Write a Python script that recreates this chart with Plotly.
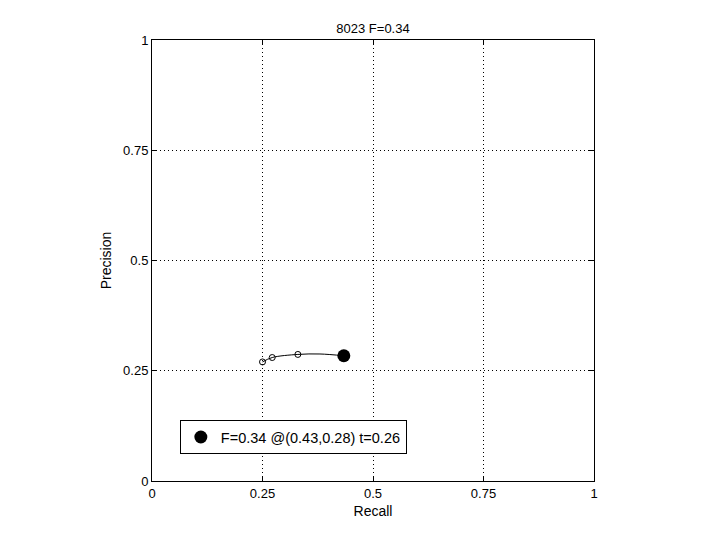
import plotly.graph_objects as go

# Data
curve_recall = [0.250, 0.272, 0.330, 0.380, 0.434]
curve_precision = [0.270, 0.280, 0.287, 0.288, 0.284]
marker_recall = [0.250, 0.272, 0.330]
marker_precision = [0.270, 0.280, 0.287]
best_recall = [0.434]
best_precision = [0.284]
best_label = "F=0.34 @(0.43,0.28) t=0.26"
title_text = "8023 F=0.34"
tick_vals = [0, 0.25, 0.5, 0.75, 1]
tick_text = ["0", "0.25", "0.5", "0.75", "1"]

fig = go.Figure()
fig.add_trace(go.Scatter(x=curve_recall, y=curve_precision, mode="lines",
                         line=dict(color="black", width=1, shape="spline"),
                         showlegend=False, hoverinfo="skip"))
fig.add_trace(go.Scatter(x=marker_recall, y=marker_precision, mode="markers",
                         marker=dict(symbol="circle-open", size=6, color="black",
                                     line=dict(width=1, color="black")),
                         showlegend=False))
fig.add_trace(go.Scatter(x=best_recall, y=best_precision, mode="markers",
                         marker=dict(symbol="circle", size=13, color="black"),
                         name=best_label, showlegend=True))

axis_common = dict(range=[0, 1], tickvals=tick_vals, ticktext=tick_text,
                   showgrid=True, gridcolor="black", griddash="1px,3px", gridwidth=1,
                   showline=True, linecolor="black", linewidth=1, mirror="ticks",
                   ticks="inside", ticklen=5, tickcolor="black", zeroline=False,
                   tickfont=dict(size=13, color="black"))

fig.update_layout(
    width=720, height=540,
    paper_bgcolor="white", plot_bgcolor="white",
    font=dict(family="Liberation Sans, Arial, sans-serif", size=13, color="black"),
    margin=dict(l=144, r=134, t=32, b=67),
    title=dict(text=title_text, x=(144 + 586) / 2 / 720, xanchor="center",
               y=1 - 20 / 540, yanchor="middle", font=dict(size=13)),
    xaxis=dict(title=dict(text="Recall", standoff=6, font=dict(size=14)), **axis_common),
    yaxis=dict(title=dict(text="Precision", standoff=8, font=dict(size=14)), **axis_common),
    legend=dict(x=0.063, y=0.061, xanchor="left", yanchor="bottom",
                bgcolor="white", bordercolor="black", borderwidth=1,
                font=dict(size=14.5), itemwidth=30),
    showlegend=True,
)

fig.write_html("out.html")
